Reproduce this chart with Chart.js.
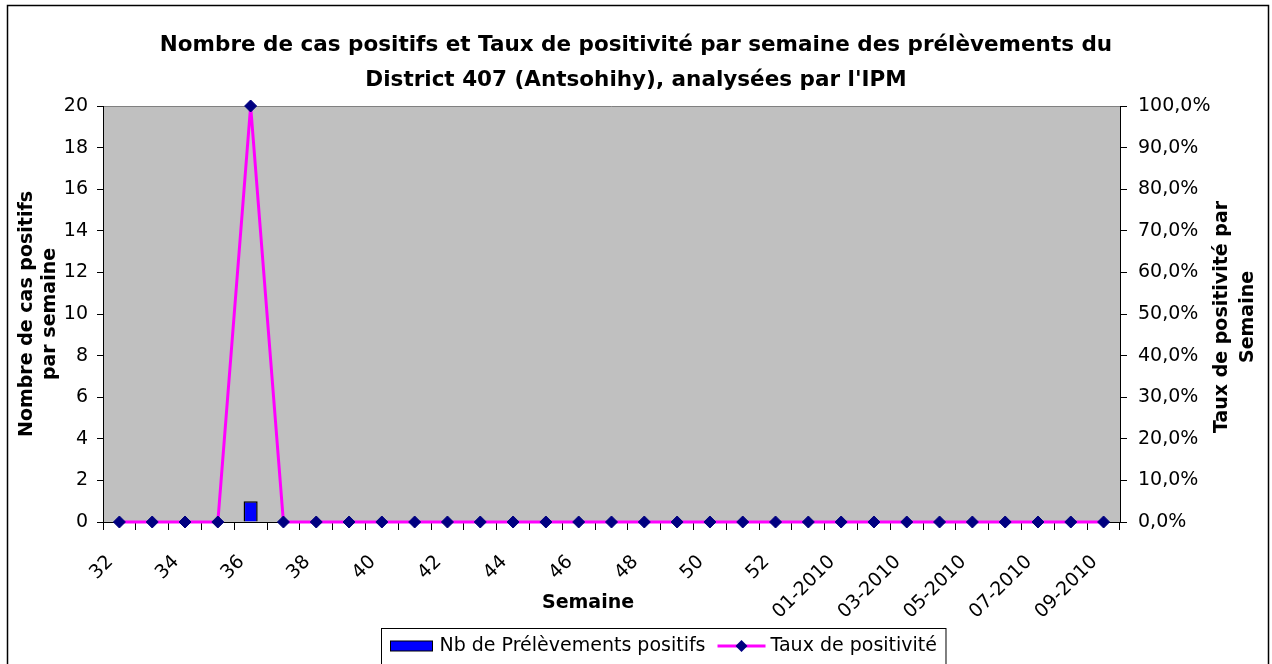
<!DOCTYPE html>
<html>
<head>
<meta charset="utf-8">
<script src="https://cdn.jsdelivr.net/npm/chart.js@4.4.1/dist/chart.umd.min.js"></script>
<style>
    body { margin: 0; background: #fff; }
</style>
</head>
<body>
<canvas id="ipm_chart" width="1272" height="664"></canvas>
<script>
const semaines = ['32', '33', '34', '35', '36', '37', '38', '39', '40', '41', '42',
    '43', '44', '45', '46', '47', '48', '49', '50', '51', '52', '53',
    '01-2010', '02-2010', '03-2010', '04-2010', '05-2010', '06-2010',
    '07-2010', '08-2010', '09-2010'];
const nb_positifs = [0, 0, 0, 0, 1, 0, 0, 0, 0, 0, 0,
    0, 0, 0, 0, 0, 0, 0, 0, 0, 0, 0,
    0, 0, 0, 0, 0, 0, 0, 0, 0];
const taux_positivite = [0, 0, 0, 0, 100, 0, 0, 0, 0, 0, 0,
    0, 0, 0, 0, 0, 0, 0, 0, 0, 0, 0,
    0, 0, 0, 0, 0, 0, 0, 0, 0];

const titre = ['Nombre de cas positifs et Taux de positivité par semaine des prélèvements du',
    "District 407 (Antsohihy), analysées par l'IPM"];
const titre_gauche = ['Nombre de cas positifs', 'par semaine'];
const titre_droite = ['Taux de positivité par', 'Semaine'];
const titre_x = 'Semaine';

const FONT = '"DejaVu Sans", "Liberation Sans", sans-serif';
Chart.defaults.font.family = FONT;
Chart.defaults.font.size = 19;
Chart.defaults.color = '#000';

// gray plot background, white page
const fond = {
    id: 'fond',
    beforeDraw(chart) {
        const {ctx, chartArea: a} = chart;
        ctx.save();
        ctx.fillStyle = '#fff';
        ctx.fillRect(0, 0, chart.width, chart.height);
        ctx.fillStyle = '#c0c0c0';
        ctx.fillRect(a.left, a.top, a.right - a.left, a.bottom - a.top);
        ctx.strokeStyle = '#808080';
        ctx.lineWidth = 1;
        ctx.beginPath();
        ctx.moveTo(a.left, a.top + 0.5);
        ctx.lineTo(a.right, a.top + 0.5);
        ctx.stroke();
        ctx.restore();
    }
};

// right title, x title, legend box and outer frame
const habillage = {
    id: 'habillage',
    afterDraw(chart) {
        const {ctx, chartArea: a} = chart;
        ctx.save();
        ctx.fillStyle = '#000';
        ctx.textBaseline = 'middle';
        ctx.textAlign = 'center';
        ctx.font = 'bold 19px ' + FONT;

        const cy = (a.top + a.bottom) / 2 + 3;
        titre_droite.forEach((t, i) => {
            ctx.save();
            ctx.translate(1222 + i * 26, cy);
            ctx.rotate(-Math.PI / 2);
            ctx.fillText(t, 0, 0);
            ctx.restore();
        });
        ctx.fillText(titre_x, 588, 603);

        // legend
        ctx.font = '19px ' + FONT;
        ctx.textAlign = 'left';
        const lab1 = chart.data.datasets[0].label;
        const lab2 = chart.data.datasets[1].label;
        const w1 = ctx.measureText(lab1).width;
        const w2 = ctx.measureText(lab2).width;
        const inner = 9 + 42 + 7 + w1 + 12 + 48 + 5 + w2 + 9;
        const x0 = Math.round(663 - inner / 2) + 0.5;
        const ly = 646;
        ctx.strokeStyle = '#000';
        ctx.lineWidth = 1;
        ctx.strokeRect(x0, 628.5, inner, 60);
        let x = x0 + 9;
        ctx.fillStyle = '#0000ff';
        ctx.fillRect(x, ly - 5, 42, 10);
        ctx.strokeRect(x, ly - 5, 42, 10);
        x += 42 + 7;
        ctx.fillStyle = '#000';
        ctx.fillText(lab1, x, ly);
        x += w1 + 12;
        ctx.strokeStyle = '#ff00ff';
        ctx.lineWidth = 3;
        ctx.beginPath();
        ctx.moveTo(x, ly);
        ctx.lineTo(x + 48, ly);
        ctx.stroke();
        ctx.fillStyle = '#000080';
        ctx.beginPath();
        ctx.moveTo(x + 24, ly - 6);
        ctx.lineTo(x + 30, ly);
        ctx.lineTo(x + 24, ly + 6);
        ctx.lineTo(x + 18, ly);
        ctx.closePath();
        ctx.fill();
        x += 48 + 5;
        ctx.fillStyle = '#000';
        ctx.fillText(lab2, x, ly);

        ctx.strokeStyle = '#000';
        ctx.lineWidth = 1.5;
        ctx.strokeRect(7.5, 5.5, 1261, 680);
        ctx.restore();
    }
};

const ipm_chart = document.getElementById('ipm_chart').getContext('2d');
new Chart(ipm_chart, {
    type: 'bar',
    data: {
        labels: semaines,
        datasets: [{
            type: 'bar',
            label: 'Nb de Prélèvements positifs',
            data: nb_positifs,
            yAxisID: 'y',
            backgroundColor: '#0000ff',
            borderColor: '#000',
            borderWidth: 1.5,
            barPercentage: 0.43,
            categoryPercentage: 1,
            order: 2
        }, {
            type: 'line',
            label: 'Taux de positivité',
            data: taux_positivite,
            yAxisID: 'y1',
            borderColor: '#ff00ff',
            borderWidth: 3,
            tension: 0,
            pointStyle: 'rectRot',
            pointRadius: 6,
            pointBackgroundColor: '#000080',
            pointBorderColor: '#000080',
            pointBorderWidth: 1,
            clip: false,
            order: 1
        }]
    },
    options: {
        responsive: false,
        animation: false,
        devicePixelRatio: 1,
        layout: {
            padding: { top: 0, left: 0, right: 0, bottom: 32 }
        },
        plugins: {
            legend: { display: false },
            tooltip: { enabled: false },
            title: {
                display: true,
                text: titre,
                color: '#000',
                font: { size: 21.5, weight: 'bold', lineHeight: 35 / 21.5 },
                padding: { top: 27.5, bottom: 8.5 }
            }
        },
        scales: {
            x: {
                offset: true,
                grid: {
                    offset: true,
                    drawOnChartArea: false,
                    drawTicks: true,
                    tickLength: 8,
                    color: '#000'
                },
                border: { color: '#000', width: 1 },
                ticks: {
                    autoSkip: false,
                    minRotation: 45,
                    maxRotation: 45,
                    padding: 21,
                    labelOffset: -9,
                    callback: function (value, index) {
                        return index % 2 === 0 ? this.getLabelForValue(value) : '';
                    }
                },
                afterFit: (axis) => { axis.height = 110; }
            },
            y: {
                position: 'left',
                min: 0,
                max: 20,
                ticks: { stepSize: 2, padding: 9 },
                grid: {
                    drawOnChartArea: false,
                    tickLength: 6,
                    color: '#000'
                },
                border: { color: '#000', width: 1 },
                title: {
                    display: true,
                    text: titre_gauche,
                    font: { size: 19, weight: 'bold', lineHeight: 23 / 19 },
                    padding: { top: 15.5, bottom: 0 }
                },
                afterFit: (axis) => { axis.width = 103; }
            },
            y1: {
                position: 'right',
                min: 0,
                max: 100,
                ticks: {
                    stepSize: 10,
                    padding: 11,
                    callback: (v) => v.toFixed(1).replace('.', ',') + '%'
                },
                grid: {
                    drawOnChartArea: false,
                    tickLength: 7,
                    color: '#000'
                },
                border: { color: '#000', width: 1 },
                afterFit: (axis) => { axis.width = 152; }
            }
        }
    },
    plugins: [fond, habillage]
});
</script>
</body>
</html>
